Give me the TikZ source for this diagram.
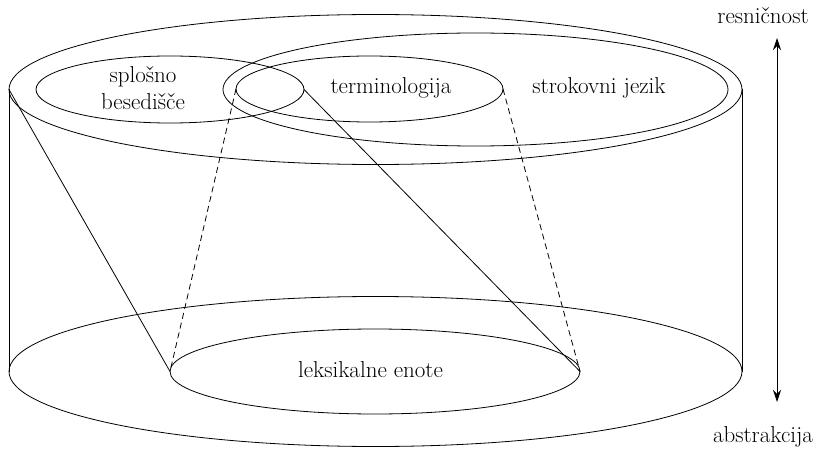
\documentclass[tikz,border=0pt]{standalone}
\usetikzlibrary{shapes.geometric,arrows.meta}
\begin{document}
\begin{tikzpicture}[x=1pt,y=-1pt,
  line width=0.8pt,
  oval/.style={draw,ellipse,inner sep=0pt,outer sep=0pt},
  label/.style={font=\fontsize{23}{27}\selectfont,align=center,inner sep=0pt},
  guide/.style={dash pattern=on 6pt off 4pt}]
\useasboundingbox (0,0) rectangle (813,449);
% top and bottom discs of the cylinder
\node[oval,minimum width=733pt,minimum height=150pt] (top) at (375.5,89.5) {};
\node[oval,minimum width=733pt,minimum height=150pt] (bottom) at (375.5,371.5) {};
% inner regions on the top disc
\node[oval,minimum width=505pt,minimum height=113pt] (strok) at (475.5,89.5) {};
\node[oval,minimum width=268pt,minimum height=67pt] (splos) at (170,89.5) {};
\node[oval,minimum width=267pt,minimum height=66pt] (term) at (369.5,89) {};
% region on the bottom disc
\node[oval,minimum width=410pt,minimum height=85pt] (leks) at (375,371.5) {};
% cylinder sides
\draw (top.west) -- (bottom.west);
\draw (top.east) -- (bottom.east);
% projections down to the lexical units
\draw (top.west) -- (leks.west);
\draw (splos.east) -- (leks.east);
\draw[guide] (term.west) -- (leks.west);
\draw[guide] (term.east) -- (leks.east);
% labels
\node[label] (lsplos) at (143,88) {splošno\\besedišče};
\node[label] (lterm) at (391,88) {terminologija};
\node[label] (lstrok) at (599,88) {strokovni jezik};
\node[label] (lleks) at (370.5,370) {leksikalne enote};
% scale from reality to abstraction
\node[label] (real) at (763,16) {resničnost};
\node[label] (abst) at (763,437) {abstrakcija};
\coordinate (up) at (777,38);
\coordinate (down) at (777,402);
\draw[{Stealth[length=12pt,width=8pt]}-{Stealth[length=12pt,width=8pt]}] (up) -- (down);
\end{tikzpicture}
\end{document}
